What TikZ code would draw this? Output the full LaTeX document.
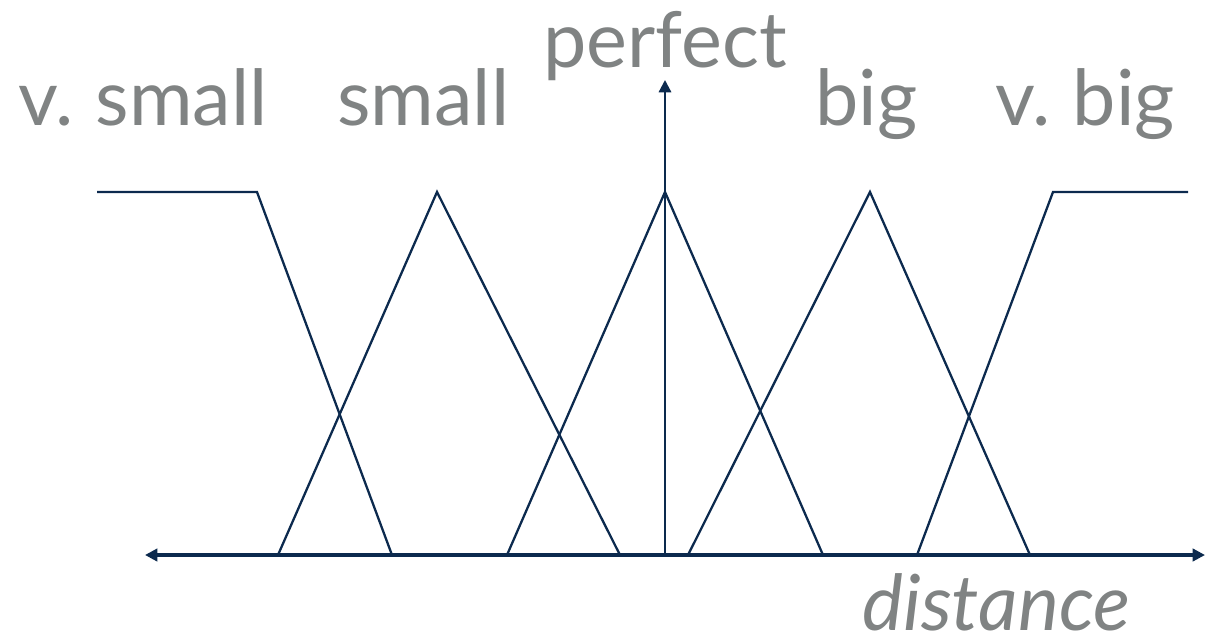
\documentclass[tikz,border=0pt]{standalone}
\usepackage{fontspec}
\setmainfont{Lato}
\usetikzlibrary{arrows.meta}
\definecolor{linenavy}{RGB}{12,42,78}
\definecolor{labelgray}{RGB}{128,131,131}
\newcommand\termfont{\fontsize{44}{48}\selectfont\spaceskip=0.2em\relax}
\tikzset{
  mf/.style={draw=linenavy, line width=1.3pt},
  axis/.style={draw=linenavy, line width=1.8pt, -{Triangle[length=7pt,width=7pt]}},
  term/.style={text=labelgray, inner sep=0pt, anchor=base west, font=\termfont}
}
\begin{document}
\begin{tikzpicture}[x=0.02cm, y=-0.02cm]
  \useasboundingbox (0,0) rectangle (1211,643);

  % axes
  \coordinate (xl) at (145,555);
  \coordinate (xr) at (1205,555);
  \coordinate (o) at (665,555);
  \coordinate (yt) at (665,80);
  \draw[axis, {Triangle[length=7pt,width=7pt]}-{Triangle[length=7pt,width=7pt]}] (xl) -- (xr);
  \draw[axis, line width=1.3pt] (o) -- (yt);

  % membership functions
  \coordinate (vs1) at (97,192);  \coordinate (vs2) at (257,192);  \coordinate (vs3) at (392,555);
  \coordinate (s1) at (278,555);  \coordinate (s2) at (437,192);   \coordinate (s3) at (620,555);
  \coordinate (p1) at (507,555);  \coordinate (p2) at (665,192);   \coordinate (p3) at (823,555);
  \coordinate (b1) at (688,555);  \coordinate (b2) at (870,192);   \coordinate (b3) at (1030,555);
  \coordinate (vb1) at (917,555); \coordinate (vb2) at (1053,192); \coordinate (vb3) at (1188,192);
  \draw[mf] (vs1) -- (vs2) -- (vs3);
  \draw[mf] (s1) -- (s2) -- (s3);
  \draw[mf] (p1) -- (p2) -- (p3);
  \draw[mf] (b1) -- (b2) -- (b3);
  \draw[mf] (vb1) -- (vb2) -- (vb3);

  % labels
  \node[term] (vsmall) at (18,125) {v. small};
  \node[term] (small) at (337,125) {small};
  \node[term] (perfect) at (543,67) {perfect};
  \node[term] (big) at (815,125) {big};
  \node[term] (vbig) at (995,125) {v. big};
  \node[term, font=\termfont\itshape] (dist) at (862,630) {distance};
\end{tikzpicture}
\end{document}
